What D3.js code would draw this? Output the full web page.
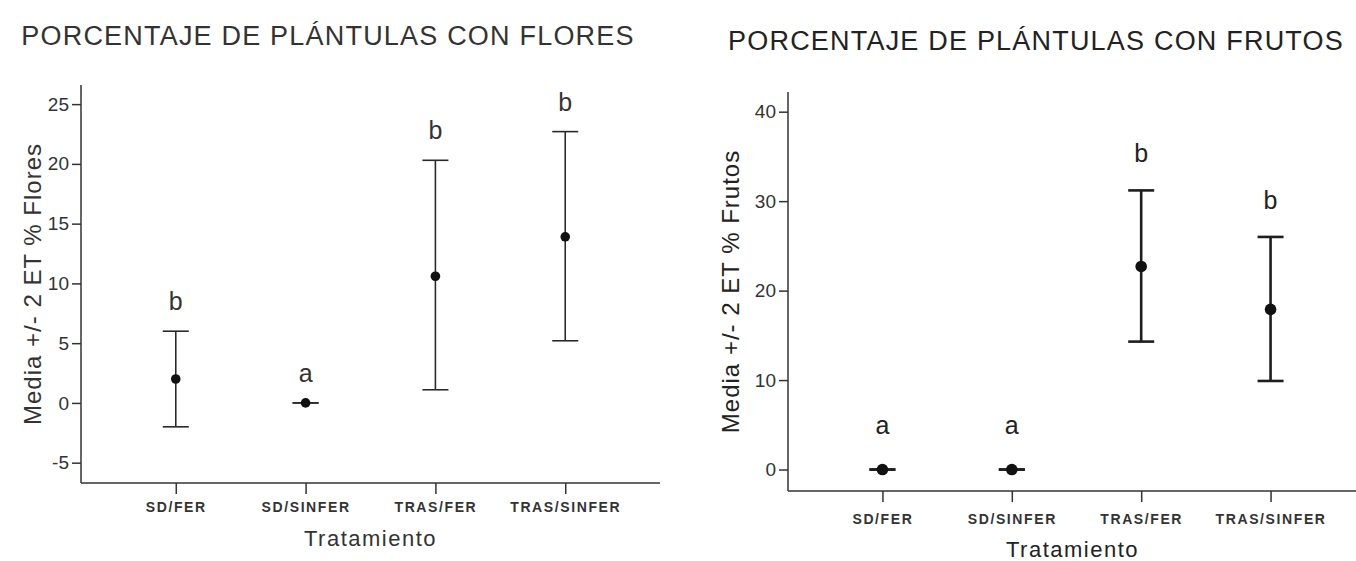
<!DOCTYPE html>
<html>
<head>
<meta charset="utf-8">
<script src="https://cdn.jsdelivr.net/npm/d3@7"></script>
<style>
  body { margin: 0; background: #fff; }
  svg { display: block; font-family: "Liberation Sans", Arial, sans-serif; }
  .tick text { fill: #222; }
</style>
</head>
<body>
<div id="chart"></div>
<script>
var treatments = ["SD/FER", "SD/SINFER", "TRAS/FER", "TRAS/SINFER"];

var floresMean = [2.0, 0, 10.6, 13.9];
var floresLow = [-2.0, 0, 1.1, 5.2];
var floresHigh = [6.0, 0, 20.3, 22.7];
var floresLetters = ["b", "a", "b", "b"];
var floresTicks = [-5, 0, 5, 10, 15, 20, 25];

var frutosMean = [0, 0, 22.7, 17.9];
var frutosLow = [0, 0, 14.3, 9.9];
var frutosHigh = [0, 0, 31.2, 26.0];
var frutosLetters = ["a", "a", "b", "b"];
var frutosTicks = [0, 10, 20, 30, 40];

var svg = d3.select("#chart").append("svg")
  .attr("width", 1356)
  .attr("height", 561);

panel({
  title: "PORCENTAJE DE PLÁNTULAS CON FLORES",
  titleX: 328, titleY: 45,
  ylabel: "Media +/- 2 ET % Flores",
  ylabelX: 41,
  left: 81, right: 660, top: 85, bottom: 483,
  domain: [-6.7, 26.6],
  ticks: floresTicks,
  mean: floresMean, low: floresLow, high: floresHigh, letters: floresLetters,
  stroke: "#2a2a2a", width: 1.6, r: 4.8, cap: 13, letterGap: 21,
  xlabY: 512, tratY: 546, color: "#333"
});

panel({
  title: "PORCENTAJE DE PLÁNTULAS CON FRUTOS",
  titleX: 1036, titleY: 50,
  ylabel: "Media +/- 2 ET % Frutos",
  ylabelX: 739,
  left: 788, right: 1365, top: 92, bottom: 491,
  domain: [-2.4, 42.2],
  ticks: frutosTicks,
  mean: frutosMean, low: frutosLow, high: frutosHigh, letters: frutosLetters,
  stroke: "#1e1e1e", width: 2.6, r: 5.8, cap: 13, letterGap: 28,
  xlabY: 524, tratY: 557, color: "#222"
});

function panel(o) {
  var x = d3.scalePoint()
    .domain(treatments)
    .range([o.left, o.right])
    .padding(0.73);

  var y = d3.scaleLinear()
    .domain(o.domain)
    .range([o.bottom, o.top]);

  var g = svg.append("g");

  g.append("text")
    .attr("x", o.titleX)
    .attr("y", o.titleY)
    .style("text-anchor", "middle")
    .style("font-size", "27px")
    .style("letter-spacing", "1.2px")
    .style("fill", o.color)
    .text(o.title);

  // y axis
  var ya = g.append("g")
    .attr("transform", "translate(" + o.left + ",0)")
    .call(d3.axisLeft(y).tickValues(o.ticks).tickFormat(function(d) { return String(d); })
      .tickSize(9).tickSizeOuter(0).tickPadding(3));
  ya.select(".domain").attr("d", "M0," + o.top + "V" + o.bottom).style("stroke", "#333").style("stroke-width", 1.5);
  ya.selectAll(".tick line").style("stroke", "#333").style("stroke-width", 1.5);
  ya.selectAll(".tick text").style("font-size", "19px").style("fill", "#333");

  // x axis
  var xa = g.append("g")
    .attr("transform", "translate(0," + o.bottom + ")")
    .call(d3.axisBottom(x).tickSize(11).tickSizeOuter(0).tickPadding(0));
  xa.select(".domain").attr("d", "M" + o.left + ",0H" + o.right).style("stroke", "#333").style("stroke-width", 1.5);
  xa.selectAll(".tick line").style("stroke", "#333").style("stroke-width", 1.5);
  xa.selectAll(".tick text")
    .attr("y", o.xlabY - o.bottom)
    .attr("dy", null)
    .style("font-size", "14px")
    .style("letter-spacing", "1.6px")
    .style("font-weight", "bold")
    .style("fill", "#333");

  g.append("text")
    .attr("x", (o.left + o.right) / 2 - (o.right > 1356 ? 4 : 0))
    .attr("y", o.tratY)
    .style("text-anchor", "middle")
    .style("font-size", "22px")
    .style("letter-spacing", "1.5px")
    .style("fill", o.color)
    .text("Tratamiento");

  g.append("text")
    .attr("transform", "translate(" + o.ylabelX + "," + ((o.top + o.bottom) / 2) + ") rotate(-90)")
    .style("text-anchor", "middle")
    .style("font-size", "24px")
    .style("letter-spacing", "1px")
    .style("fill", o.color)
    .text(o.ylabel);

  var bars = g.selectAll("g.bar")
    .data(treatments).enter()
    .append("g")
    .attr("class", "bar");

  bars.append("line")
    .attr("x1", function(d) { return x(d); })
    .attr("x2", function(d) { return x(d); })
    .attr("y1", function(d, i) { return y(o.low[i]); })
    .attr("y2", function(d, i) { return y(o.high[i]); })
    .style("stroke", o.stroke)
    .style("stroke-width", o.width);

  bars.append("line")
    .attr("x1", function(d) { return x(d) - o.cap; })
    .attr("x2", function(d) { return x(d) + o.cap; })
    .attr("y1", function(d, i) { return y(o.high[i]); })
    .attr("y2", function(d, i) { return y(o.high[i]); })
    .style("stroke", o.stroke)
    .style("stroke-width", o.width);

  bars.append("line")
    .attr("x1", function(d) { return x(d) - o.cap; })
    .attr("x2", function(d) { return x(d) + o.cap; })
    .attr("y1", function(d, i) { return y(o.low[i]); })
    .attr("y2", function(d, i) { return y(o.low[i]); })
    .style("stroke", o.stroke)
    .style("stroke-width", o.width);

  bars.append("circle")
    .attr("cx", function(d) { return x(d); })
    .attr("cy", function(d, i) { return y(o.mean[i]); })
    .attr("r", o.r)
    .style("fill", "#111");

  bars.append("text")
    .attr("x", function(d) { return x(d); })
    .attr("y", function(d, i) { return y(o.high[i]) - o.letterGap - (o.letters[i] == "a" && o.high[i] == 0 && o.width > 2 ? 8 : 0); })
    .style("text-anchor", "middle")
    .style("font-size", "25px")
    .style("fill", o.color)
    .text(function(d, i) { return o.letters[i]; });
}
</script>
</body>
</html>
